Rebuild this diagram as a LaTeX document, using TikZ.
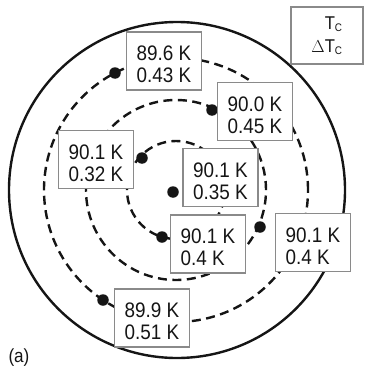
\documentclass[tikz,border=0pt]{standalone}
\usepackage{fontspec}
\setmainfont{Liberation Sans}
\newfontfamily\boxfont[FakeStretch=0.9]{Liberation Sans}
\definecolor{boxgray}{HTML}{8A8A8A}
\definecolor{ink}{HTML}{151515}
% two-line label; the strut lowers the block to sit like the printed labels
\newcommand\twolines[2]{\rule{0pt}{21.5pt}#1\\#2}
\newcommand\subC{\textsubscript{\fontsize{11}{11}\selectfont C}}
\begin{document}
\begin{tikzpicture}[x=1pt,y=-1pt,
  wafer/.style={draw=ink, line width=2.4pt},
  ring/.style={draw=ink, line width=2.4pt, dash pattern=on 9pt off 5.5pt},
  spot/.style={circle, fill=ink, inner sep=0pt, minimum size=11.5pt},
  tbox/.style={draw=boxgray, line width=1.5pt, fill=white, inner sep=0pt,
    minimum width=75pt, minimum height=58pt, align=left, text=ink,
    font=\boxfont\fontsize{21}{22}\selectfont},
  keybox/.style={draw=boxgray, line width=1.5pt, fill=white, inner sep=0pt,
    minimum width=72pt, minimum height=57pt, align=right, text=ink,
    font=\boxfont\fontsize{18.5}{23}\selectfont}]
  \useasboundingbox (0,0) rectangle (365,369);

  % wafer outline and measurement rings
  \coordinate (c) at (176,190);
  \draw[wafer] (177,190) circle[radius=168pt];
  \draw[ring] (c) circle[radius=132pt];
  \draw[ring] (c) circle[radius=90pt];
  \draw[ring] (c) circle[radius=49pt];

  % measurement spots
  \node[spot] (d1) at (115,73) {};
  \node[spot] (d2) at (212,110) {};
  \node[spot] (d3) at (142,158) {};
  \node[spot] (d4) at (173,192) {};
  \node[spot] (d5) at (162,237) {};
  \node[spot] (d6) at (260,227) {};
  \node[spot] (d7) at (103,300) {};

  % Tc and transition width at each spot
  \node[tbox] (b1) at (164,61)      {\twolines{89.6 K}{0.43 K}};
  \node[tbox] (b2) at (255,111.5)   {\twolines{90.0 K}{0.45 K}};
  \node[tbox] (b3) at (96,159.5)    {\twolines{90.1 K}{0.32 K}};
  \node[tbox] (b4) at (220.5,177.5) {\twolines{90.1 K}{0.35 K}};
  \node[tbox] (b5) at (208,244)     {\twolines{90.1 K}{0.4 K}};
  \node[tbox] (b6) at (313,242.5)   {\twolines{90.1 K}{0.4 K}};
  \node[tbox] (b7) at (152,318)     {\twolines{89.9 K}{0.51 K}};

  % legend
  \node[keybox] (key) at (327,35.5) {T\subC\\$\Delta$T\subC};

  \node[text=ink, font=\boxfont\fontsize{19}{22}\selectfont, anchor=base west]
    (lbl) at (5,362) {(a)};
\end{tikzpicture}
\end{document}
